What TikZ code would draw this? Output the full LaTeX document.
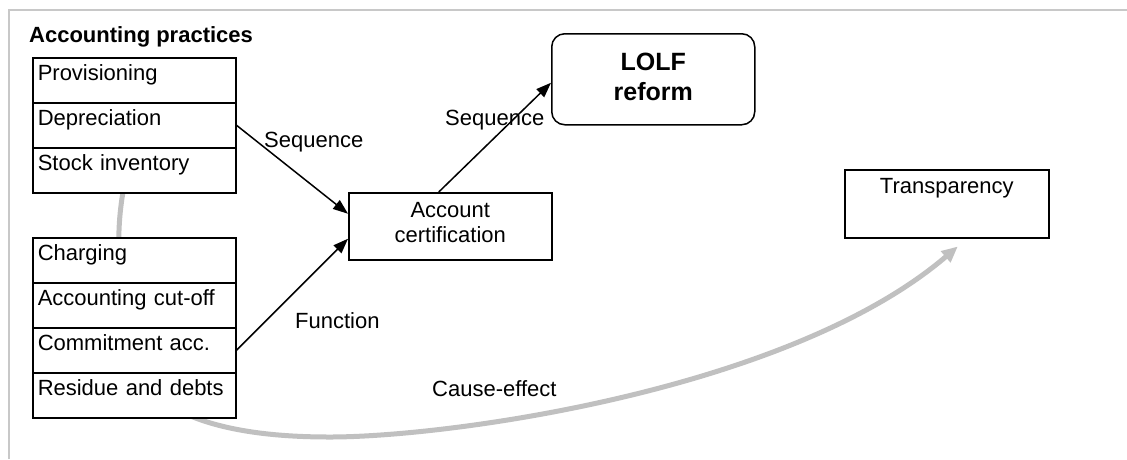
\documentclass[tikz,border=0pt]{standalone}
\usepackage{fontspec}
\setmainfont{Liberation Sans}
\usetikzlibrary{arrows.meta,calc,backgrounds}

\definecolor{framegray}{RGB}{200,200,200}
\definecolor{curvegray}{RGB}{192,192,192}

\begin{document}
\begin{tikzpicture}[x=1pt,y=-1pt,
  font=\fontsize{22}{25}\selectfont,
  rowbox/.style={draw, line width=1.5pt, fill=white, anchor=north west,
    inner xsep=5pt, inner ysep=0pt, text width=193pt, align=left,
    text height=23pt, text depth=22pt},
  plainbox/.style={draw, line width=1.5pt, fill=white, anchor=north west,
    inner sep=0pt},
  lbl/.style={anchor=base west, inner sep=0pt},
  arr/.style={-{Triangle[length=15pt,width=11pt]}, line width=1.5pt},
  cause/.style={-{Triangle[length=16pt,width=14pt]}, line width=5pt, curvegray}
]
\useasboundingbox (0,0) rectangle (1127,459);

% outer frame (top and left edges)
\draw[framegray, line width=2pt] (9,459) -- (9,10) -- (1127,10);

% heading
\node[lbl, font=\fontsize{22}{25}\selectfont\bfseries] (head) at (29,42) {Accounting practices};

% first group of practices
\node[rowbox] (prov)  at (32,57)  {Provisioning};
\node[rowbox] (depr)  at (32,102) {Depreciation};
\node[rowbox] (stock) at (32,147) {Stock inventory};

% second group of practices
\node[rowbox] (charg) at (32,237) {Charging};
\node[rowbox] (cut)   at (32,282) {Accounting cut-off};
\node[rowbox] (commit) at (32,327) {Commitment acc.};
\node[rowbox] (resid) at (32,372) {Residue and debts};

% account certification
\node[plainbox, minimum width=203pt, minimum height=67pt,
      text height=25pt, text depth=42pt] (acct) at (348,192)
  {\begin{tabular}[t]{@{}c@{}}Account\\certification\end{tabular}};

% LOLF reform
\node[plainbox, rounded corners=13pt, minimum width=203pt, minimum height=91pt,
      text height=37pt, text depth=54pt,
      font=\fontsize{25}{30}\selectfont\bfseries] (lolf) at (551,33)
  {\begin{tabular}[t]{@{}c@{}}LOLF\\reform\end{tabular}};

% transparency
\node[plainbox, minimum width=204pt, minimum height=68pt,
      text height=24pt, text depth=44pt] (trans) at (844,169) {Transparency};

% connectors
\draw[arr] (depr.east) -- ($(acct.west)+(0,-12.5)$);
\draw[arr] (commit.east) -- ($(acct.west)+(0,12.5)$);
\draw[arr] ($(acct.north)+(-11.5,0)$) -- ($(lolf.west)+(0,3.5)$);

% connector labels
\node[lbl] (seqa) at (264,147) {Sequence};
\node[lbl] (func) at (295,328) {Function};
\node[lbl] (seqb) at (445,125) {Sequence};
\node[lbl] (ceff) at (432,396) {Cause-effect};

% cause-effect curve, running behind the practice boxes
\coordinate (ca) at (193,417);
\coordinate (cb) at (330,437);
\begin{pgfonlayer}{background}
\draw[cause] ($(stock.south)+(-11.5,0)$)
    .. controls (105,300) and (150,400) .. (ca)
    .. controls (236,434) and (290,437) .. (cb)
    .. controls (450,437) and (790,390) .. ($(trans.south)+(11,8)$);
\end{pgfonlayer}
\end{tikzpicture}
\end{document}
